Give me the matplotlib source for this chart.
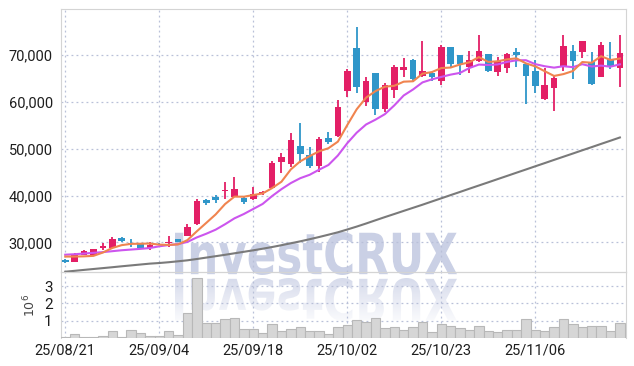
import numpy as np
import matplotlib.pyplot as plt
from matplotlib.textpath import TextPath
from matplotlib.patches import PathPatch
from matplotlib.font_manager import FontProperties
from matplotlib.transforms import Affine2D

plt.rcParams['font.family'] = ['Liberation Sans Narrow', 'Roboto', 'DejaVu Sans']

# ---- data ----
tick_idx = [0, 10, 20, 30, 40, 50]
tick_lab = ['25/08/21', '25/09/04', '25/09/18', '25/10/02', '25/10/23', '25/11/06']

open_ = [26150, 25850, 27280, 27280, 28840, 28710, 30980, 29910, 29570, 28710,
         29700, 29850, 30640, 31350, 33850, 39050, 39750, 41050, 39750, 39540,
         39200, 40550, 41680, 47240, 46680, 50600, 48670, 46320, 52370, 52740,
         62430, 71500, 60070, 66150, 58510, 62580, 66860, 68990, 65570, 66150,
         64500, 71780, 70060, 67560, 68780, 70280, 66360, 67350, 70770, 68140,
         66680, 60590, 63110, 67560, 70920, 70600, 68630, 65420, 69210, 67260]
high = [26350, 27650, 28350, 28600, 29790, 31200, 31130, 30640, 29600, 30000,
        29900, 31350, 30800, 33850, 39200, 39330, 40120, 42830, 44030, 39970,
        41890, 41000, 47390, 49040, 53320, 55580, 50320, 52590, 53530, 60440,
        67070, 75990, 65290, 66280, 64010, 67920, 69360, 69140, 73120, 66490,
        72130, 71800, 70100, 70980, 74340, 70280, 69570, 70430, 71560, 68140,
        68990, 67220, 65790, 74340, 72200, 73120, 70770, 72910, 72780, 74340]
low = [25600, 25850, 27200, 27280, 28350, 28700, 30130, 28930, 28700, 28350,
       29400, 29060, 30000, 31300, 33800, 37980, 38340, 39260, 39750, 38130,
       39050, 40200, 41550, 44760, 46170, 46900, 45830, 45100, 51030, 52590,
       61140, 62000, 59150, 57230, 57940, 60800, 65420, 64350, 65420, 64500,
       63540, 67220, 65700, 66150, 68630, 66360, 65640, 66150, 67450, 59520,
       62040, 60440, 58090, 66710, 64870, 69360, 63650, 65290, 67000, 63280]
close = [25800, 27280, 28200, 28570, 29210, 30640, 30340, 29570, 28710, 29420,
         29500, 30000, 30130, 33340, 38830, 38470, 39050, 41200, 41340, 38690,
         40270, 40750, 46900, 48180, 51880, 48890, 46320, 52030, 51520, 58880,
         66640, 63150, 64500, 58510, 63650, 67560, 67560, 64930, 66640, 65360,
         71840, 68140, 68210, 68990, 70920, 66640, 68840, 70280, 70060, 65570,
         63430, 63650, 65210, 72050, 68840, 73060, 63860, 72200, 67780, 70560]
volume = [0.05, 0.23, 0.07, 0.07, 0.12, 0.40, 0.07, 0.46, 0.29, 0.12,
          0.12, 0.40, 0.15, 1.45, 3.47, 0.87, 0.87, 1.10, 1.14, 0.52,
          0.50, 0.29, 0.79, 0.42, 0.50, 0.62, 0.40, 0.40, 0.23, 0.65,
          0.75, 1.04, 0.90, 1.14, 0.56, 0.62, 0.46, 0.62, 0.90, 0.35,
          0.79, 0.69, 0.56, 0.46, 0.67, 0.40, 0.33, 0.44, 0.44, 1.08,
          0.44, 0.38, 0.65, 1.08, 0.81, 0.62, 0.67, 0.67, 0.40, 0.85]
ma5 = [26950, 26950, 27000, 27100, 27812, 28780, 29392, 29666, 29694, 29736,
       29508, 29440, 29552, 30478, 32360, 34154, 35964, 38178, 39778, 39750,
       40110, 40450, 41590, 42958, 45596, 47320, 48434, 49460, 50128, 51528,
       55078, 58444, 60938, 62336, 63290, 63474, 64356, 64442, 66068, 66410,
       67266, 67382, 68038, 68508, 69620, 68580, 68720, 69134, 69348, 68278,
       67636, 66598, 65582, 65980, 66634, 68560, 68402, 69800, 68998, 69314]
ma10 = [27350, 27450, 27600, 27750, 27900, 28100, 28300, 28450, 28600, 28774,
        29144, 29416, 29609, 30086, 31048, 31831, 32702, 33865, 35128, 36055,
        37132, 38207, 39884, 41368, 42673, 43715, 44442, 45525, 46543, 48562,
        51199, 53439, 55199, 56232, 57409, 59276, 61400, 62690, 64202, 64850,
        65370, 65869, 66240, 67288, 68015, 67923, 68051, 68586, 68928, 68949,
        68108, 67659, 67359, 67665, 67457, 68099, 67601, 67793, 67565, 68064]
ma60 = [23710, 23900, 24100, 24290, 24480, 24670, 24870, 25060, 25250, 25440,
        25570, 25740, 25940, 26150, 26430, 26730, 27030, 27330, 27650, 27970,
        28290, 28630, 28990, 29380, 29790, 30210, 30660, 31130, 31630, 32140,
        32740, 33360, 34020, 34710, 35390, 36050, 36720, 37380, 38040, 38730,
        39410, 40100, 40780, 41470, 42150, 42830, 43520, 44200, 44890, 45570,
        46260, 46940, 47630, 48310, 48990, 49680, 50360, 51050, 51730, 52420]
price_ticks = [30000, 40000, 50000, 60000, 70000]
price_labels = ['30,000', '40,000', '50,000', '60,000', '70,000']
vol_ticks = [1, 2, 3]

RED = '#e31f66'
BLUE = '#2f96c9'
GRID = '#b9c0d8'
SPINE = '#d4d4d4'
W, H = 634, 366

fig = plt.figure(figsize=(W / 100, H / 100), dpi=100, facecolor='white')

# watermark layer in pixel coordinates
bg = fig.add_axes([0, 0, 1, 1], zorder=0)
bg.set_xlim(0, W)
bg.set_ylim(H, 0)
bg.axis('off')

tp = TextPath((0, 0), 'InvestCRUX', size=100,
              prop=FontProperties(family='DejaVu Sans', weight='bold'))
ext = tp.get_extents()
x0, x1, ytop, ybot = 175, 457, 232, 275
sx = (x1 - x0) / ext.width
sy = (ybot - ytop) / ext.height
p_main = Affine2D().translate(-ext.x0, -ext.y0).scale(sx, -sy).translate(x0, ybot).transform_path(tp)
bg.add_patch(PathPatch(p_main, facecolor='#cad0e5', edgecolor='none'))

rtop = 278
p_ref = Affine2D().translate(-ext.x0, -ext.y0).scale(sx, sy).translate(x0, rtop).transform_path(tp)
clip = PathPatch(p_ref, facecolor='none', edgecolor='none', transform=bg.transData)
bg.add_patch(clip)
grad = np.zeros((100, 1, 4))
grad[..., 0] = 0.79
grad[..., 1] = 0.815
grad[..., 2] = 0.9
grad[:, 0, 3] = np.linspace(0.75, 0.1, 100)
im = bg.imshow(grad, extent=[x0, x1, rtop + (ybot - ytop), rtop], origin='upper',
               aspect='auto', interpolation='bilinear')
im.set_clip_path(clip)

ax = fig.add_axes([61 / W, 1 - 272 / H, (626 - 61) / W, (272 - 9) / H], zorder=1)
ax2 = fig.add_axes([61 / W, 1 - 338 / H, (626 - 61) / W, (338 - 272) / H], zorder=1, sharex=ax)
for a in (ax, ax2):
    a.set_facecolor('none')
    for s in a.spines.values():
        s.set_color(SPINE)
    a.tick_params(length=0, labelsize=10.5, labelcolor='#1e1e1e')
    a.grid(True, color=GRID, linestyle=(0, (1.5, 2.5)), linewidth=0.9)
    a.set_axisbelow(True)
ax2.spines['bottom'].set_visible(False)

x = np.arange(len(close))
o = np.array(open_)
c = np.array(close)
up = c >= o
cols = np.where(up, RED, BLUE)

ax.vlines(x, low, high, colors=cols, linewidth=1.3, zorder=3)
ax.bar(x, np.abs(c - o), bottom=np.minimum(o, c), width=0.7, color=cols, zorder=4)

ax.plot(x, ma60, color='#7a7a7a', linewidth=1.5, zorder=5)
ax.plot(x, ma10, color='#cc55ee', linewidth=1.5, zorder=5)
ax.plot(x, ma5, color='#f0844f', linewidth=1.5, zorder=6)

ax.set_ylim(23650, 79900)
ax.set_yticks(price_ticks)
ax.set_yticklabels(price_labels)
ax.set_xlim(-0.45, 59.65)
ax.tick_params(labelbottom=False, pad=6)

ax2.bar(x, volume, width=1.0, color='#d6d6d6', edgecolor='#b8b8b8', linewidth=0.8, zorder=3)
ax2.set_ylim(0, 3.82)
ax2.set_yticks(vol_ticks)
ax2.set_yticklabels([str(v) for v in vol_ticks])
ax2.set_xticks(tick_idx)
ax2.set_xticklabels(tick_lab)
ax2.tick_params(axis='x', pad=4)
ax2.tick_params(axis='y', pad=6, labelsize=11)
ax2.set_ylabel('$10^6$', fontsize=9, color='#444444', labelpad=4)

fig.savefig('out.png', dpi=100)
